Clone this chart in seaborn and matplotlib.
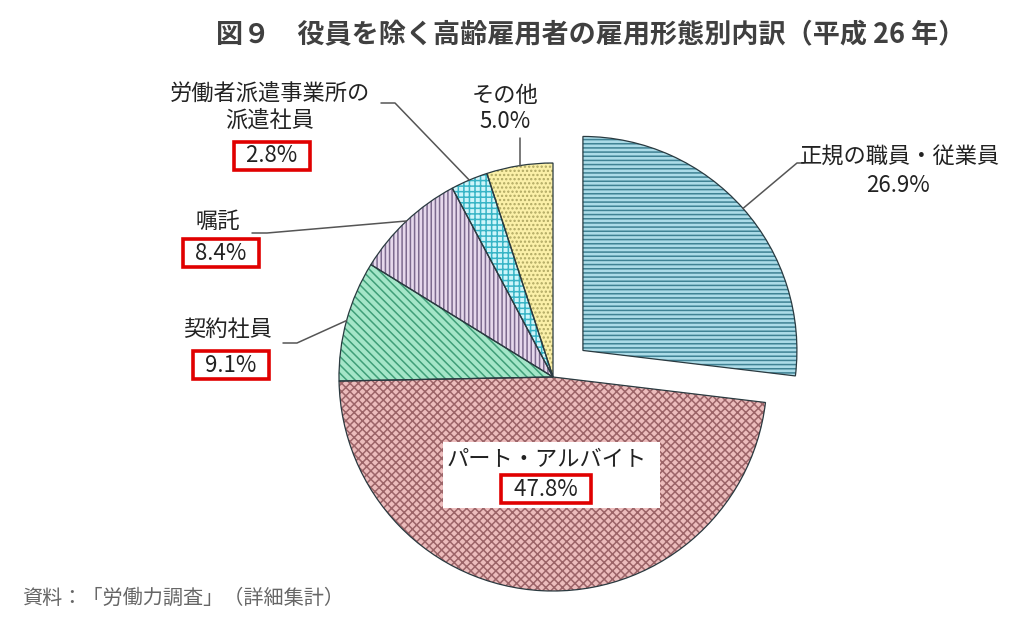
import matplotlib
matplotlib.use("Agg")
import matplotlib.pyplot as plt
from matplotlib.patches import Rectangle
import seaborn as sns
import numpy as np

# ---- data ----
categories = ["正規の職員・従業員", "パート・アルバイト", "契約社員", "嘱託",
              "労働者派遣事業所の\n派遣社員", "その他"]
values = [26.9, 47.8, 9.1, 8.4, 2.8, 5.0]
fill_colors = ["#acdce8", "#ecbcbc", "#a4e6c8", "#e6d8ec", "#cdf5fa", "#fbf0a8"]
hatch_colors = ["#3f8294", "#9c6468", "#3f9f78", "#7c6a8e", "#38b5c6", "#b0a862"]
hatches = ["----", "xxxx", "\\" * 4, "||||", "+++", "...."]
title = "図９　役員を除く高齢雇用者の雇用形態別内訳（平成 26 年）"
source = "資料：「労働力調査」（詳細集計）"

sns.set_theme(style="white")
plt.rcParams["font.family"] = ["Noto Sans CJK JP", "DejaVu Sans"]
plt.rcParams["hatch.linewidth"] = 1.1

W, H = 1024, 631
fig = plt.figure(figsize=(W / 100, H / 100), dpi=100)
fig.patch.set_facecolor("white")
ax = fig.add_axes([0, 0, 1, 1])


def Y(y):
    return H - y


cx, cy, R = 553, Y(377), 214
explode = [40, 0, 0, 0, 0, 0]  # offset in axis units (pixels here)

# fill + hatch layer
wedges, _ = ax.pie(values, colors=fill_colors, hatch=hatches, explode=explode,
                   startangle=90, counterclock=False, center=(cx, cy), radius=R,
                   wedgeprops=dict(linewidth=0))
for w, hc in zip(wedges, hatch_colors):
    w.set_edgecolor(hc)
    w.set_linewidth(0)
# outline layer
ax.pie(values, colors=["none"] * len(values), explode=explode,
       startangle=90, counterclock=False, center=(cx, cy), radius=R,
       wedgeprops=dict(linewidth=0.9, edgecolor="#2a3a40"))

ax.set_xlim(0, W)
ax.set_ylim(0, H)
ax.set_aspect("auto")
ax.axis("off")

# geometry of wedges from the data
fr = np.array(values) / sum(values)
cum = np.concatenate([[0], np.cumsum(fr)])
t1 = 90 - 360 * cum[:-1]
t2 = 90 - 360 * cum[1:]
mid = np.deg2rad((t1 + t2) / 2)


def edge_point(i):
    off = explode[i]
    return (cx + (off + R) * np.cos(mid[i]), cy + (off + R) * np.sin(mid[i]))


pct = [f"{v:.1f}%" for v in values]
FS = 16
lc = "#555555"
red_box = dict(boxstyle="square,pad=0.12", facecolor="white", edgecolor="#e00000", linewidth=2.6)

# 正規の職員・従業員 (index 0)
ax.text(900, Y(157), categories[0], ha="center", va="center", fontsize=FS, color="#222")
ax.text(898, Y(186), pct[0], ha="center", va="center", fontsize=FS, color="#222")
ex, ey = edge_point(0)
ax.plot([804, 797, ex], [Y(163), Y(163), ey], color=lc, lw=1.1)

# パート・アルバイト (index 1)
ax.add_patch(Rectangle((443, Y(508)), 217, 66, facecolor="white", edgecolor="none", zorder=3))
ax.text(547, Y(460), categories[1], ha="center", va="center", fontsize=FS, color="#222", zorder=4)
ax.text(546, Y(489), "  " + pct[1] + "  ", ha="center", va="center", fontsize=FS, color="#222",
        bbox=red_box, zorder=4)

# 契約社員 (index 2)
ax.text(228, Y(329), categories[2], ha="center", va="center", fontsize=FS, color="#222")
ax.text(231, Y(365), "  " + pct[2] + "  ", ha="center", va="center", fontsize=FS, color="#222",
        bbox=red_box)
ex, ey = edge_point(2)
ax.plot([283, 297, ex], [Y(343), Y(343), ey], color=lc, lw=1.1)

# 嘱託 (index 3)
ax.text(218, Y(222), categories[3], ha="center", va="center", fontsize=FS, color="#222")
ax.text(221, Y(253), "  " + pct[3] + "  ", ha="center", va="center", fontsize=FS, color="#222",
        bbox=red_box)
ex, ey = edge_point(3)
ax.plot([252, 267, ex], [Y(233), Y(233), ey], color=lc, lw=1.1)

# 労働者派遣事業所の派遣社員 (index 4)
ax.text(270, Y(108), categories[4], ha="center", va="center", fontsize=FS, color="#222",
        linespacing=1.2)
ax.text(272, Y(156), "  " + pct[4] + "  ", ha="center", va="center", fontsize=FS, color="#222",
        bbox=red_box)
ex, ey = edge_point(4)
ax.plot([381, 395, ex], [Y(103), Y(103), ey], color=lc, lw=1.1)

# その他 (index 5)
ax.text(505, Y(95), categories[5], ha="center", va="center", fontsize=FS, color="#222")
ax.text(505, Y(122), pct[5], ha="center", va="center", fontsize=FS, color="#222")
ex, ey = edge_point(5)
ax.plot([ex, ex], [Y(138), ey], color=lc, lw=1.1)

# title and source
ax.text(591, Y(35), title, ha="center", va="center", fontsize=19.5, fontweight="bold", color="#404040")
ax.text(22, Y(598), source, ha="left", va="center", fontsize=14.5, color="#666666")

fig.savefig("out.png", dpi=100, facecolor="white")
